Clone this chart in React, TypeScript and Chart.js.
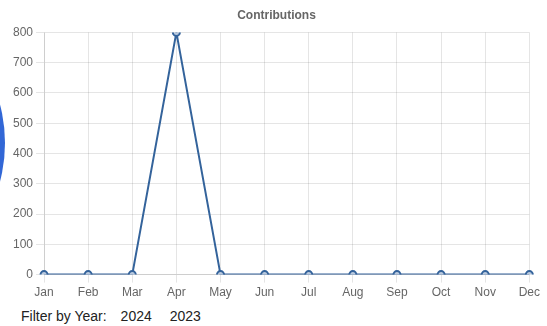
import React, { useEffect, useRef } from "react";
import { Chart, registerables } from "chart.js";

Chart.register(...registerables);

const months = ["Jan", "Feb", "Mar", "Apr", "May", "Jun", "Jul", "Aug", "Sep", "Oct", "Nov", "Dec"];
const contributions = [0, 0, 0, 800, 0, 0, 0, 0, 0, 0, 0, 0];
const years = ["2024", "2023"];
const yMax = 800;
const yStep = 100;

const FONT = "Arial, Liberation Sans, sans-serif";

export default function App() {
  const canvasRef = useRef<HTMLCanvasElement | null>(null);

  useEffect(() => {
    if (!canvasRef.current) return;
    const chart = new Chart(canvasRef.current, {
      type: "line",
      data: {
        labels: months,
        datasets: [
          {
            label: "Contributions",
            data: contributions,
            borderColor: "#34639b",
            backgroundColor: "#b9c9de",
            pointBackgroundColor: "#b9c9de",
            pointBorderColor: "#34639b",
            pointBorderWidth: 2,
            pointRadius: 3.5,
            borderWidth: 2,
            tension: 0,
          },
        ],
      },
      options: {
        responsive: false,
        animation: false,
        plugins: {
          legend: { display: false },
          title: {
            display: true,
            text: "Contributions",
            color: "#666",
            font: { family: FONT, size: 12, weight: "bold" },
          },
          tooltip: { enabled: false },
        },
        scales: {
          x: {
            ticks: { color: "#666", font: { family: FONT, size: 12 } },
            grid: { color: "rgba(0,0,0,0.1)" },
          },
          y: {
            min: 0,
            max: yMax,
            ticks: { stepSize: yStep, color: "#666", font: { family: FONT, size: 12 } },
            grid: { color: "rgba(0,0,0,0.1)" },
          },
        },
      },
    });
    return () => chart.destroy();
  }, []);

  return (
    <div style={{ position: "absolute", left: 0, top: 0, width: 547, height: 326, overflow: "hidden", fontFamily: FONT }}>
      <canvas ref={canvasRef} width={533} height={305} style={{ position: "absolute", left: 10, top: -2 }} />
      {/* large round badge peeking in from the left edge */}
      <div
        style={{
          position: "absolute",
          left: -297,
          top: -8,
          width: 302,
          height: 302,
          borderRadius: "50%",
          background: "#3267d6",
          pointerEvents: "none",
        }}
      />
      <div style={{ position: "absolute", left: 21, top: 308, fontSize: 14, color: "#222", display: "flex", whiteSpace: "nowrap" }}>
        <span>Filter by Year:</span>
        {years.map((y, i) => (
          <span key={y} style={{ marginLeft: i === 0 ? 14 : 18 }}>{y}</span>
        ))}
      </div>
    </div>
  );
}
